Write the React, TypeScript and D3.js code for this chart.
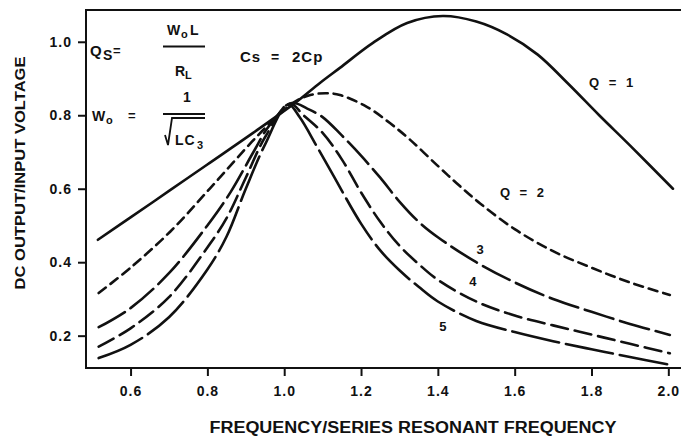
import React, { useEffect, useRef } from 'react';
import * as d3 from 'd3';

// frequency / series resonant frequency
const q1X = [0.515, 0.6, 0.703, 0.8, 0.919, 1.03, 1.093, 1.145, 1.231, 1.32, 1.413, 1.5, 1.58, 1.66, 1.74, 1.82, 1.9, 2.012];
const q1Y = [0.461, 0.522, 0.596, 0.666, 0.752, 0.835, 0.888, 0.929, 0.997, 1.051, 1.07, 1.055, 1.02, 0.965, 0.885, 0.8, 0.718, 0.6];

const q2X = [0.517, 0.6, 0.703, 0.807, 0.916, 0.965, 1.025, 1.068, 1.11, 1.145, 1.215, 1.276, 1.328, 1.397, 1.449, 1.51, 1.6, 1.7, 1.8, 1.9, 2.004];
const q2Y = [0.316, 0.385, 0.483, 0.601, 0.728, 0.78, 0.835, 0.855, 0.86, 0.855, 0.823, 0.778, 0.733, 0.665, 0.615, 0.56, 0.49, 0.43, 0.385, 0.345, 0.311];

const q3X = [0.517, 0.6, 0.7, 0.8, 0.86, 0.92, 0.96, 1.02, 1.06, 1.1, 1.15, 1.2, 1.25, 1.3, 1.35, 1.4, 1.5, 1.6, 1.7, 1.8, 1.9, 2.004];
const q3Y = [0.223, 0.275, 0.37, 0.5, 0.59, 0.7, 0.77, 0.833, 0.818, 0.795, 0.745, 0.69, 0.63, 0.565, 0.51, 0.468, 0.4, 0.345, 0.3, 0.265, 0.232, 0.202];

const q4X = [0.517, 0.6, 0.7, 0.8, 0.85, 0.9, 0.95, 1.015, 1.05, 1.1, 1.15, 1.2, 1.25, 1.3, 1.35, 1.4, 1.5, 1.6, 1.7, 1.8, 1.9, 2.004];
const q4Y = [0.17, 0.22, 0.305, 0.44, 0.52, 0.63, 0.74, 0.832, 0.8, 0.752, 0.68, 0.59, 0.51, 0.445, 0.395, 0.352, 0.293, 0.255, 0.228, 0.203, 0.178, 0.152];

const q5X = [0.517, 0.6, 0.7, 0.8, 0.85, 0.9, 0.95, 1.01, 1.04, 1.085, 1.13, 1.2, 1.25, 1.3, 1.35, 1.4, 1.5, 1.6, 1.7, 1.8, 1.9, 2.004];
const q5Y = [0.139, 0.175, 0.25, 0.38, 0.47, 0.6, 0.72, 0.83, 0.795, 0.715, 0.632, 0.505, 0.432, 0.378, 0.333, 0.293, 0.24, 0.21, 0.185, 0.163, 0.142, 0.121];

const xTicks = [0.6, 0.8, 1.0, 1.2, 1.4, 1.6, 1.8, 2.0];
const yTicks = [0.2, 0.4, 0.6, 0.8, 1.0];

const curves = [
  { xs: q1X, ys: q1Y, dash: null },
  { xs: q2X, ys: q2Y, dash: '9 6' },
  { xs: q3X, ys: q3Y, dash: '30 7' },
  { xs: q4X, ys: q4Y, dash: '17 7' },
  { xs: q5X, ys: q5Y, dash: '48 7' },
];

const qLabels = [
  { text: 'Q = 1', f: 1.851, v: 0.877 },
  { text: 'Q = 2', f: 1.619, v: 0.577 },
  { text: '3', f: 1.51, v: 0.422 },
  { text: '4', f: 1.491, v: 0.335 },
  { text: '5', f: 1.413, v: 0.213 },
];

const W = 681, H = 443;
const FONT = '"Liberation Sans", Arial, sans-serif';

const App = () => {
  const svgRef = useRef<SVGSVGElement>(null);

  useEffect(() => {
    const svg = d3.select(svgRef.current);
    svg.selectAll('*').remove();

    const left = 86, top = 10, bottom = 368;
    const x = d3.scaleLinear().domain([0.484, 2.033]).range([left, W]);
    const y = d3.scaleLinear().domain([0.112, 1.0865]).range([bottom, top]);

    svg.append('rect').attr('width', W).attr('height', H).attr('fill', '#fff');

    // frame: top, left and bottom lines (no right side)
    svg.append('path').attr('d', `M${W},${top}H${left}V${bottom}H${W}`)
      .attr('stroke', '#111').attr('stroke-width', 2).attr('fill', 'none');

    const xAxis = svg.append('g').attr('transform', `translate(0,${bottom})`)
      .call(d3.axisBottom(x).tickValues(xTicks).tickSize(8).tickPadding(10).tickFormat(d3.format('.1f')));
    const yAxis = svg.append('g').attr('transform', `translate(${left},0)`)
      .call(d3.axisLeft(y).tickValues(yTicks).tickSize(8).tickPadding(6).tickFormat(d3.format('.1f')));
    [xAxis, yAxis].forEach(a => {
      a.select('.domain').remove();
      a.selectAll('line').attr('stroke', '#111').attr('stroke-width', 2);
      a.selectAll('text').attr('fill', '#111').style('font-family', FONT).style('font-size', '14px')
        .style('font-weight', 'bold').style('letter-spacing', '1px');
    });

    const line = d3.line<[number, number]>()
      .x(d => x(d[0])).y(d => y(d[1]))
      .curve(d3.curveCatmullRom.alpha(0.5));

    svg.append('g').selectAll('path')
      .data(curves)
      .enter().append('path')
      .attr('d', d => line(d.xs.map((v, i) => [v, d.ys[i]] as [number, number])))
      .attr('fill', 'none')
      .attr('stroke', '#111')
      .attr('stroke-width', 2.6)
      .attr('stroke-linecap', 'round')
      .attr('stroke-dasharray', d => d.dash);

    const txt = (sx: number, sy: number, s: string, size = 14, anchor = 'start') =>
      svg.append('text').attr('x', sx).attr('y', sy).attr('text-anchor', anchor)
        .attr('fill', '#111').style('font-family', FONT).style('font-size', size + 'px')
        .style('font-weight', 'bold').text(s);

    svg.append('g').selectAll('text')
      .data(qLabels)
      .enter().append('text')
      .attr('x', d => x(d.f))
      .attr('y', d => y(d.v))
      .attr('text-anchor', 'middle')
      .attr('fill', '#111')
      .style('font-family', FONT).style('font-size', '13px').style('font-weight', 'bold')
      .style('word-spacing', '6px')
      .text(d => d.text);

    // formula block
    txt(90, 56, 'Q', 15);
    txt(103, 60, 'S', 14);
    txt(113, 55, '=', 13);
    txt(167, 35, 'W', 14);
    txt(181, 38, 'o', 11);
    txt(190, 35, 'L', 14);
    svg.append('line').attr('x1', 163).attr('x2', 205).attr('y1', 46.5).attr('y2', 46.5).attr('stroke', '#111').attr('stroke-width', 2);
    txt(175, 76, 'R', 14);
    txt(185, 79, 'L', 11);
    txt(240, 62, 'Cs', 15).style('letter-spacing', '1px');
    txt(271, 62, '=', 14);
    txt(292, 62, '2Cp', 15).style('letter-spacing', '1px');

    txt(92, 121, 'W', 14);
    txt(106, 124, 'o', 11);
    txt(128, 120, '=', 13);
    txt(187, 102, '1', 14, 'middle');
    svg.append('line').attr('x1', 163).attr('x2', 205).attr('y1', 114).attr('y2', 114).attr('stroke', '#111').attr('stroke-width', 2);
    svg.append('path').attr('d', 'M165,135 L168,145 L172,118 H205').attr('fill', 'none').attr('stroke', '#111').attr('stroke-width', 1.8);
    txt(175, 145, 'LC', 14).style('letter-spacing', '1px');
    txt(197, 149, '3', 11);

    // axis titles
    svg.append('text').attr('x', 413).attr('y', 433).attr('text-anchor', 'middle')
      .attr('textLength', 407).attr('lengthAdjust', 'spacingAndGlyphs')
      .attr('fill', '#111').style('font-family', FONT).style('font-size', '16px').style('font-weight', 'bold')
      .text('FREQUENCY/SERIES RESONANT FREQUENCY');
    svg.append('text').attr('transform', 'translate(25,173) rotate(-90)').attr('text-anchor', 'middle')
      .attr('textLength', 233).attr('lengthAdjust', 'spacingAndGlyphs')
      .attr('fill', '#111').style('font-family', FONT).style('font-size', '14px').style('font-weight', 'bold')
      .text('DC OUTPUT/INPUT VOLTAGE');
  }, []);

  return (
    <svg ref={svgRef} width={W} height={H} style={{ position: 'absolute', left: 0, top: 0 }}></svg>
  );
};

export default App;
